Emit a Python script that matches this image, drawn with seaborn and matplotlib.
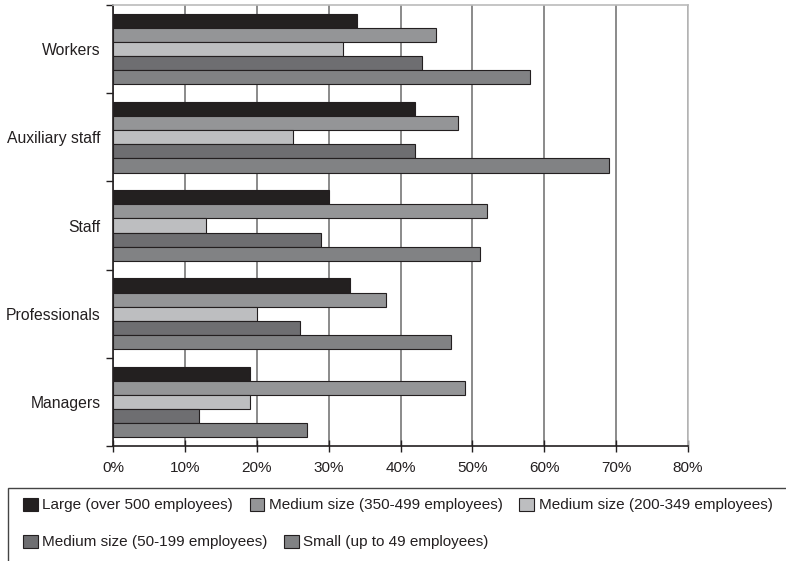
import matplotlib
matplotlib.use("Agg")
import matplotlib.pyplot as plt
import matplotlib.patches as mpatches
import seaborn as sns
import pandas as pd
from matplotlib.ticker import FixedLocator, PercentFormatter

sns.set_style("white")
plt.rcParams['font.family'] = ['Liberation Sans', 'DejaVu Sans']

categories = ["Workers", "Auxiliary staff", "Staff", "Professionals", "Managers"]
sizes = ["Large (over 500 employees)", "Medium size (350-499 employees)",
         "Medium size (200-349 employees)", "Medium size (50-199 employees)",
         "Small (up to 49 employees)"]
large = [34, 42, 30, 33, 19]
medium_350 = [45, 48, 52, 38, 49]
medium_200 = [32, 25, 13, 20, 19]
medium_50 = [43, 42, 29, 26, 12]
small = [58, 69, 51, 47, 27]
colors = ["#231f20", "#939598", "#bcbec0", "#6d6e71", "#808285"]

rows = []
for size, vals in zip(sizes, [large, medium_350, medium_200, medium_50, small]):
    for cat, v in zip(categories, vals):
        rows.append({"category": cat, "size": size, "value": v})
df = pd.DataFrame(rows)

fig = plt.figure(figsize=(7.86, 5.61), dpi=100)
ax = fig.add_axes([113/786, 1-446/561, (688-113)/786, (446-5)/561])

sns.barplot(data=df, y="category", x="value", hue="size", order=categories,
            hue_order=sizes, palette=colors, orient="h", width=0.8,
            edgecolor="#231f20", linewidth=0.8, ax=ax, legend=True)

ax.set_xlim(0, 80)
ax.set_ylim(4.5, -0.5)
ax.set_xticks(range(0, 81, 10))
ax.xaxis.set_major_formatter(PercentFormatter(decimals=0))
ax.set_xlabel("")
ax.set_ylabel("")
ax.set_axisbelow(True)
ax.grid(axis="x", color="#777777", linewidth=1.2)
ax.grid(axis="y", visible=False)

ax.yaxis.set_minor_locator(FixedLocator([i - 0.5 for i in range(6)]))
ax.tick_params(axis="y", which="major", length=0, labelsize=11.3, pad=9, colors="#231f20")
ax.tick_params(axis="y", which="minor", left=True, length=5, width=1, color="#231f20")
ax.tick_params(axis="x", which="major", bottom=True, direction="inout", length=8,
               width=1, color="#231f20", labelsize=11, pad=7, labelcolor="#231f20")

for side in ["left", "bottom"]:
    ax.spines[side].set_color("#231f20")
    ax.spines[side].set_linewidth(1.2)
for side in ["top", "right"]:
    ax.spines[side].set_color("#bbbbbb")
    ax.spines[side].set_linewidth(1.2)

handles, labels = ax.get_legend_handles_labels()
ax.get_legend().remove()

# legend box running off the right and bottom edges
fig.patches.append(mpatches.Rectangle((8/786, -0.05), 1.0, 0.05 + 1 - 488/561,
                                      transform=fig.transFigure, fill=False,
                                      edgecolor="#444444", linewidth=1.0))

legend_kw = dict(frameon=False, fontsize=11, handlelength=0.95, handleheight=0.95,
                 handletextpad=0.3, columnspacing=1.1, borderpad=0, borderaxespad=0,
                 labelcolor="#231f20")
leg1 = fig.legend(handles[:3], labels[:3], loc="center left",
                  bbox_to_anchor=(23/786, 1-505/561), ncol=3, **legend_kw)
leg2 = fig.legend(handles[3:], labels[3:], loc="center left",
                  bbox_to_anchor=(23/786, 1-542/561), ncol=2, **legend_kw)

fig.savefig("out.png", dpi=100)
